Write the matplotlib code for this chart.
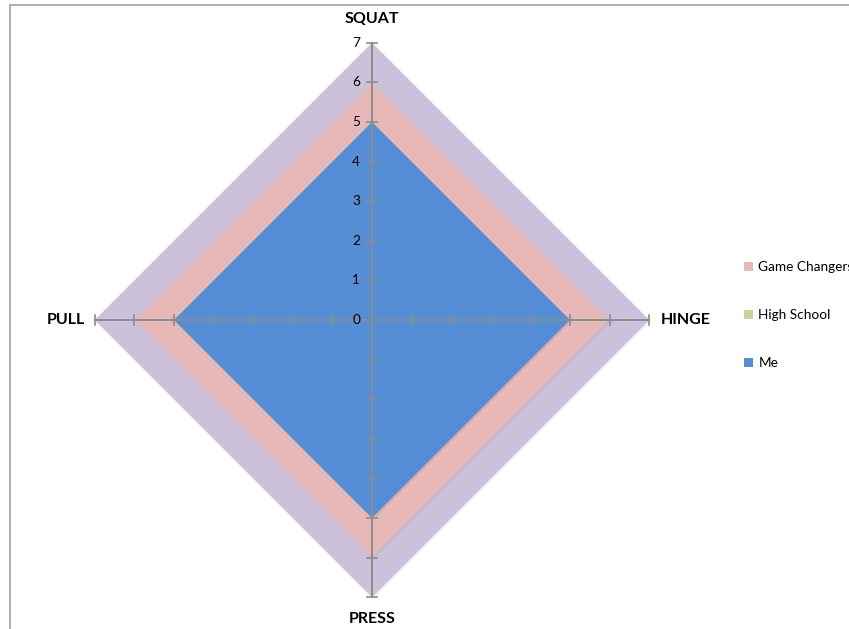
import numpy as np
import matplotlib
matplotlib.use("Agg")
import matplotlib.pyplot as plt
from matplotlib.patches import Polygon, Patch, Rectangle

plt.rcParams['font.family'] = ['Lato', 'DejaVu Sans']

# data
categories = ['SQUAT', 'HINGE', 'PRESS', 'PULL']
outer_vals = [7, 7, 7, 7]          # purple band, no legend entry
game_changers = [6, 6, 6, 6]
high_school = [4, 4, 4, 4]
me = [5, 5, 5, 5]
ticks = [0, 1, 2, 3, 4, 5, 6, 7]

series = [
    ('_outer', outer_vals, '#ccc1da'),
    ('Game Changers', game_changers, '#e6b9b8'),
    ('High School', high_school, '#c3d69b'),
    ('Me', me, '#558ed5'),
]

angles = np.arange(len(categories)) * 2 * np.pi / len(categories)

def to_xy(vals):
    v = np.asarray(vals, dtype=float)
    return np.column_stack([v * np.sin(angles), v * np.cos(angles)])

W, H = 849, 629
cx, cy = 372, 320
s = 39.6  # px per unit

fig = plt.figure(figsize=(W / 100, H / 100), dpi=100)
ax = fig.add_axes([0, 0, 1, 1])
ax.set_xlim(-cx / s, (W - cx) / s)
ax.set_ylim(-(H - cy) / s, cy / s)
ax.axis('off')

# chart frame (only top/left visible)
fig.patches.append(Rectangle((10 / W, -0.1), 1.2, 1 - 5 / H + 0.1,
                             transform=fig.transFigure, fill=False,
                             edgecolor='#a0a0a0', linewidth=1.2))

# draw big to small so every band shows
order = [0, 1, 3, 2]
for i in order:
    name, vals, col = series[i]
    pts = to_xy(vals)
    # faint drop shadow
    ax.add_patch(Polygon(pts + [0.03, -0.05], closed=True, facecolor='#000000',
                         alpha=0.05, edgecolor='none', zorder=1 + i * 0.1))
    ax.add_patch(Polygon(pts, closed=True, facecolor=col, edgecolor='none',
                         zorder=1.05 + i * 0.1))

# spokes + tick marks
rmax = max(ticks)
tl = 0.13
for a in angles:
    dx, dy = np.sin(a), np.cos(a)
    ax.plot([0, rmax * dx], [0, rmax * dy], color='#8c8c8c', lw=1.4, zorder=5)
    for t in ticks[1:]:
        px, py = t * dx, t * dy
        ax.plot([px - tl * dy, px + tl * dy], [py + tl * dx, py - tl * dx],
                color='#8c8c8c', lw=1.2, zorder=5)

# radial tick labels on vertical spoke
for t in ticks:
    ax.text(-0.3, t, str(t), ha='right', va='center', fontsize=9.8,
            color='#000000', zorder=6)

# category labels
lbl = dict(fontsize=11.5, fontweight='bold')
ax.text(0, 7.6, categories[0], ha='center', va='center', **lbl)
ax.text(7.28, 0, categories[1], ha='left', va='center', **lbl)
ax.text(0, -7.55, categories[2], ha='center', va='center', **lbl)
ax.text(-7.25, 0, categories[3], ha='right', va='center', **lbl)

handles = [Patch(facecolor=c, edgecolor='none', label=n) for n, v, c in series[1:]]
fig.legend(handles=handles, loc='upper left', bbox_to_anchor=(744 / W, 1 - 261 / H),
           frameon=False, fontsize=9.8, handlelength=0.65, handleheight=0.65,
           handletextpad=0.4, labelspacing=2.65, borderpad=0, borderaxespad=0)

fig.savefig('out.png', dpi=100)
